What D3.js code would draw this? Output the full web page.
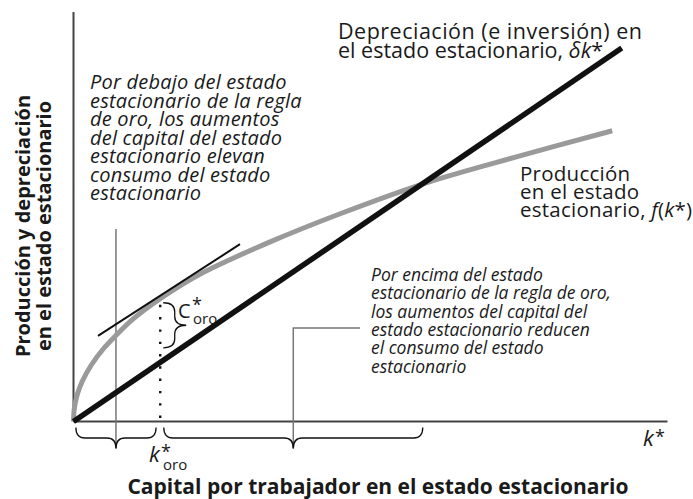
<!DOCTYPE html>
<html><head><meta charset="utf-8">
<script src="https://cdn.jsdelivr.net/npm/d3@7"></script>
<style>
body{margin:0;background:#fff;}
svg text{font-family:"Open Sans","Noto Sans",sans-serif;fill:#1a1a1a;}
</style></head>
<body><svg id="c" width="693" height="499"></svg>
<script>
// ---- data (arbitrary units) ----
const prodK = [0, 0.1, 0.3, 0.7, 1.5, 3, 5, 7.2, 10, 14.6, 21.2, 33, 45, 59.4, 75, 90.7];
const prodY = [0, 2.7, 4.6, 6.9, 9.9, 13.8, 17.7, 21.1, 25.0, 30.0, 35.9, 43.8, 50.8, 58.3, 64.8, 71.0];
const depK = [0, 92.3];
const depY = [0, 91.2];
const tanK = [4.12, 28.03];
const tanY = [20.9, 43.3];
const kGold = 14.6;
const braceBelow = [0.4, 13.9];
const braceAbove = [15.2, 58.8];
const cGold = [29.0, 18.0];

const svg = d3.select("#c");
const x = d3.scaleLinear().domain([0, 100]).range([73.5, 667.5]);
const y = d3.scaleLinear().domain([0, 100]).range([421.5, 12]);
const line = d3.line().x(d => x(d[0])).y(d => y(d[1]));

// axes
svg.append("line").attr("x1", x(0)).attr("x2", x(0)).attr("y1", y(0)).attr("y2", y(100))
  .attr("stroke", "#444").attr("stroke-width", 2);
svg.append("line").attr("x1", x(0)).attr("x2", x(100)).attr("y1", y(0)).attr("y2", y(0))
  .attr("stroke", "#444").attr("stroke-width", 2);

// helper vertical gray line (below golden rule)
const tipY = y(0) + 27;
const b1x = x((braceBelow[0] + braceBelow[1]) / 2);
svg.append("line").attr("x1", b1x).attr("x2", b1x)
  .attr("y1", 229).attr("y2", tipY).attr("stroke", "#777").attr("stroke-width", 1.5);
// bracket line (above golden rule)
const bx = x((braceAbove[0] + braceAbove[1]) / 2);
svg.append("path").attr("d", `M${bx},${tipY} L${bx},328 L360,328`)
  .attr("fill", "none").attr("stroke", "#777").attr("stroke-width", 1.5);

// production curve
svg.append("path").datum(prodK.map((k, i) => [k, prodY[i]]))
  .attr("d", d3.line().x(d => x(d[0])).y(d => y(d[1])).curve(d3.curveCatmullRom.alpha(0.5)))
  .attr("fill", "none").attr("stroke", "#9a9a9a").attr("stroke-width", 5);

// depreciation line
svg.append("path").datum(depK.map((k, i) => [k, depY[i]]))
  .attr("d", line).attr("fill", "none").attr("stroke", "#111").attr("stroke-width", 5.5);

// tangent
svg.append("path").datum(tanK.map((k, i) => [k, tanY[i]]))
  .attr("d", line).attr("fill", "none").attr("stroke", "#111").attr("stroke-width", 2);

// dotted golden rule line
svg.append("line").attr("x1", x(kGold)).attr("x2", x(kGold)).attr("y1", y(28.5)).attr("y2", y(0))
  .attr("stroke", "#111").attr("stroke-width", 2.4).attr("stroke-dasharray", "2.4,9.9");

// braces
function hBrace(x1, x2, y0, d) {
  const m = (x1 + x2) / 2, q = d / 2, r = 9;
  return `M${x1},${y0} Q${x1},${y0+q} ${x1+r},${y0+q} L${m-r},${y0+q} Q${m},${y0+q} ${m},${y0+d}` +
         ` Q${m},${y0+q} ${m+r},${y0+q} L${x2-r},${y0+q} Q${x2},${y0+q} ${x2},${y0}`;
}
function vBrace(y1, y2, x0, d) {
  const m = (y1 + y2) / 2, q = d / 2, r = 9;
  return `M${x0},${y1} Q${x0+q},${y1} ${x0+q},${y1+r} L${x0+q},${m-r} Q${x0+q},${m} ${x0+d},${m}` +
         ` Q${x0+q},${m} ${x0+q},${m+r} L${x0+q},${y2-r} Q${x0+q},${y2} ${x0},${y2}`;
}
svg.append("path").attr("d", hBrace(x(braceBelow[0]), x(braceBelow[1]), y(0) + 6, 21))
  .attr("fill", "none").attr("stroke", "#111").attr("stroke-width", 1.3);
svg.append("path").attr("d", hBrace(x(braceAbove[0]), x(braceAbove[1]), y(0) + 6, 21))
  .attr("fill", "none").attr("stroke", "#111").attr("stroke-width", 1.3);
svg.append("path").attr("d", vBrace(y(cGold[0]), y(cGold[1]), x(kGold) + 3, 23))
  .attr("fill", "none").attr("stroke", "#111").attr("stroke-width", 1.3);

// ---- texts ----
function lines(xp, y0, dy, arr, size, italic) {
  const t = svg.append("text").attr("font-size", size).attr("font-style", italic ? "italic" : "normal");
  arr.forEach((s, i) => t.append("tspan").attr("x", xp).attr("y", y0 + i * dy).text(s));
  return t;
}
// top label
const t1 = svg.append("text").attr("font-size", 21.5);
t1.append("tspan").attr("x", 338).attr("y", 39).attr("letter-spacing", 0.5).text("Depreciación (e inversión) en");
const l2 = t1.append("tspan").attr("x", 338).attr("y", 58);
l2.append("tspan").text("el estado estacionario, ");
l2.append("tspan").attr("font-style", "italic").text("δk");
l2.append("tspan").text("*");

// production label
const t2 = svg.append("text").attr("font-size", 20.5).attr("letter-spacing", 0.25);
t2.append("tspan").attr("x", 520).attr("y", 181).text("Producción");
t2.append("tspan").attr("x", 520).attr("y", 199).text("en el estado");
const l3 = t2.append("tspan").attr("x", 520).attr("y", 217);
l3.append("tspan").text("estacionario, ");
l3.append("tspan").attr("font-style", "italic").text("f");
l3.append("tspan").text("(");
l3.append("tspan").attr("font-style", "italic").text("k");
l3.append("tspan").text("*)");

lines(90, 89, 18.5, ["Por debajo del estado", "estacionario de la regla", "de oro, los aumentos",
  "del capital del estado", "estacionario elevan", "consumo del estado", "estacionario"], 20, true)
  .attr("letter-spacing", 0.2);
lines(371, 281, 18.3, ["Por encima del estado", "estacionario de la regla de oro,",
  "los aumentos del capital del", "estado estacionario reducen", "el consumo del estado",
  "estacionario"], 17.5, true);

// C*oro
svg.append("text").attr("x", 178).attr("y", 318).attr("font-size", 20).text("C");
svg.append("text").attr("x", 192).attr("y", 311).attr("font-size", 18).text("*");
svg.append("text").attr("x", 193).attr("y", 324).attr("font-size", 15).text("oro");

// k*oro
svg.append("text").attr("x", 149).attr("y", 462).attr("font-size", 22).attr("font-style", "italic").text("k");
svg.append("text").attr("x", 161).attr("y", 458).attr("font-size", 18).text("*");
svg.append("text").attr("x", 163).attr("y", 470).attr("font-size", 15).text("oro");

// k* axis label
svg.append("text").attr("x", 643).attr("y", 446).attr("font-size", 22).attr("font-style", "italic").text("k");
svg.append("text").attr("x", 655).attr("y", 443).attr("font-size", 18).text("*");

// axis titles
svg.append("text").attr("x", 378).attr("y", 494).attr("text-anchor", "middle")
  .attr("font-size", 21).attr("font-weight", "bold").text("Capital por trabajador en el estado estacionario");
const yt = svg.append("text").attr("transform", "translate(0,226) rotate(-90)")
  .attr("text-anchor", "middle").attr("font-size", 20).attr("font-weight", "bold");
yt.append("tspan").attr("x", 0).attr("y", 30).text("Producción y depreciación");
yt.append("tspan").attr("x", 0).attr("y", 51).text("en el estado estacionario");
</script></body></html>
